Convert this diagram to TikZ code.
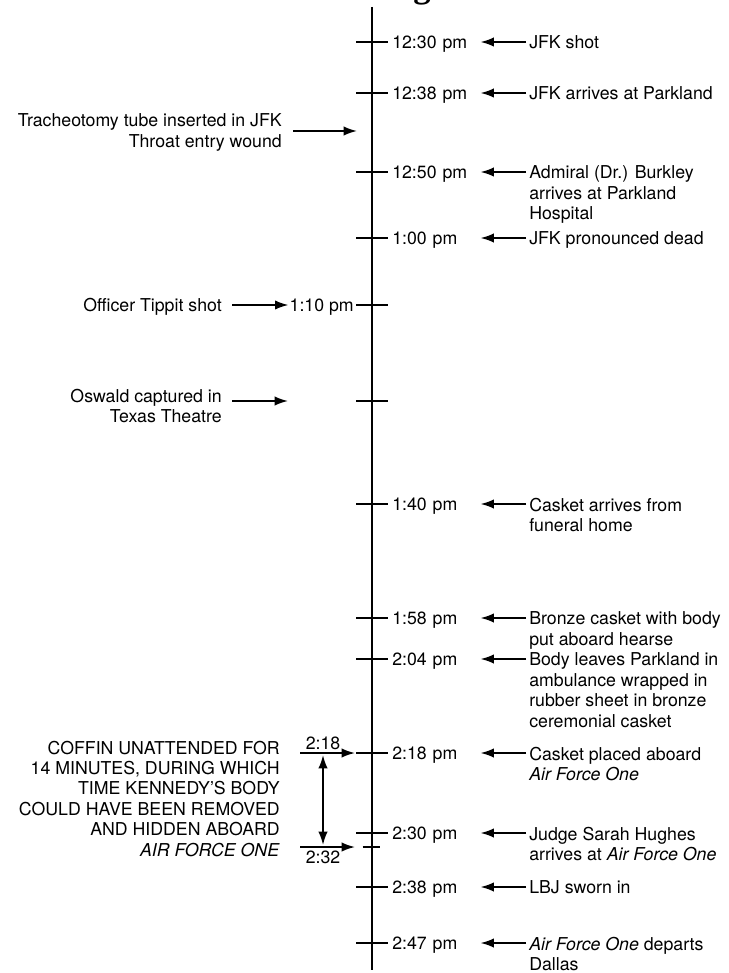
\documentclass[tikz,border=0pt]{standalone}
\usepackage{fontspec}
\setmainfont{TeX Gyre Heros}
\newfontfamily\headserif{Liberation Serif}
\usetikzlibrary{arrows.meta}
\newcommand\evsize{\fontsize{13.3}{15.3}\selectfont}

\begin{document}
\begin{tikzpicture}[x=0.75pt, y=-0.75pt, font=\evsize,
        axisline/.style={black, line width=1.6pt},
        tickmark/.style={black, line width=1.3pt},
        timelbl/.style={inner sep=0pt, anchor=base west, text width=62pt, align=left},
        evtext/.style={inner sep=0pt, anchor=north west, align=left},
        sidetext/.style={inner sep=0pt, anchor=north east, align=right},
        larr/.style={-{Latex[length=10pt,width=7pt]}, line width=1.3pt, shorten <=2.25pt, shorten >=4pt},
        rarr/.style={-{Latex[length=10pt,width=7pt]}, line width=1.3pt}]

        \useasboundingbox (0,0) rectangle (728,973);

        % heading, cut off at the top
        \begin{scope}
            \clip (0,0) rectangle (728,973);
            \node[inner sep=0pt, anchor=base, font=\headserif\bfseries\fontsize{26}{26}\selectfont] (heading) at (422,-2) {g};
        \end{scope}

        % time axis
        \coordinate (top) at (372,7);
        \coordinate (bottom) at (372,970);
        \draw[axisline] (top) -- (bottom);

        \coordinate (t1230) at (372,42);
        \coordinate (t1238) at (372,93);
        \coordinate (t1250) at (372,172);
        \coordinate (t100) at (372,238);
        \coordinate (t110) at (372,305);
        \coordinate (toswald) at (372,401);
        \coordinate (t140) at (372,504);
        \coordinate (t158) at (372,618);
        \coordinate (t204) at (372,659);
        \coordinate (t218) at (372,753);
        \coordinate (t230) at (372,833);
        \coordinate (t232) at (372,847);
        \coordinate (t238) at (372,887);
        \coordinate (t247) at (372,943);

        \draw[tickmark] ([xshift=-12pt]t1230) -- ([xshift=12pt]t1230);
        \draw[tickmark] ([xshift=-12pt]t1238) -- ([xshift=12pt]t1238);
        \draw[tickmark] ([xshift=-12pt]t1250) -- ([xshift=12pt]t1250);
        \draw[tickmark] ([xshift=-12pt]t100) -- ([xshift=12pt]t100);
        \draw[tickmark] ([xshift=-12pt]t110) -- ([xshift=12pt]t110);
        \draw[tickmark] ([xshift=-12pt]toswald) -- ([xshift=12pt]toswald);
        \draw[tickmark] ([xshift=-12pt]t140) -- ([xshift=12pt]t140);
        \draw[tickmark] ([xshift=-12pt]t158) -- ([xshift=12pt]t158);
        \draw[tickmark] ([xshift=-12pt]t204) -- ([xshift=12pt]t204);
        \draw[tickmark] ([xshift=-12pt]t218) -- ([xshift=12pt]t218);
        \draw[tickmark] ([xshift=-12pt]t230) -- ([xshift=12pt]t230);
        \draw[tickmark] ([xshift=-7pt]t232) -- ([xshift=6pt]t232);
        \draw[tickmark] ([xshift=-12pt]t238) -- ([xshift=12pt]t238);
        \draw[tickmark] ([xshift=-12pt]t247) -- ([xshift=12pt]t247);

        % right side: times and events
        \node[timelbl] (l1230) at (392,48.4) {12:30 pm};
        \node[timelbl] (l1238) at (392,99.4) {12:38 pm};
        \node[timelbl] (l1250) at (392,178.4) {12:50 pm};
        \node[timelbl] (l100) at (392,244.4) {1:00 pm};
        \node[timelbl] (l140) at (392,510.4) {1:40 pm};
        \node[timelbl] (l158) at (392,624.4) {1:58 pm};
        \node[timelbl] (l204) at (392,665.4) {2:04 pm};
        \node[timelbl] (l218) at (392,759.4) {2:18 pm};
        \node[timelbl] (l230) at (392,839.4) {2:30 pm};
        \node[timelbl] (l238) at (392,893.4) {2:38 pm};
        \node[timelbl] (l247) at (392,949.4) {2:47 pm};

        \node[evtext] (e1230) at (529,35.6) {JFK shot};
        \node[evtext] (e1238) at (529,86.6) {JFK arrives at Parkland};
        \node[evtext] (e1250) at (529,165.6) {Admiral (Dr.) Burkley\\arrives at Parkland\\Hospital};
        \node[evtext] (e100) at (529,231.6) {JFK pronounced dead};
        \node[evtext] (e140) at (529,497.6) {Casket arrives from\\funeral home};
        \node[evtext] (e158) at (529,611.6) {Bronze casket with body\\put aboard hearse};
        \node[evtext] (e204) at (529,652.6) {Body leaves Parkland in\\ambulance wrapped in\\rubber sheet in bronze\\ceremonial casket};
        \node[evtext] (e218) at (529,746.6) {Casket placed aboard\\\textit{Air Force One}};
        \node[evtext] (e230) at (529,826.6) {Judge Sarah Hughes\\arrives at \textit{Air Force One}};
        \node[evtext] (e238) at (529,880.6) {LBJ sworn in};
        \node[evtext] (e247) at (529,936.6) {\textit{Air Force One} departs\\Dallas};

        \draw[larr] (e1230.west |- t1230) -- (l1230.east |- t1230);
        \draw[larr] (e1238.west |- t1238) -- (l1238.east |- t1238);
        \draw[larr] (e1250.west |- t1250) -- (l1250.east |- t1250);
        \draw[larr] (e100.west |- t100) -- (l100.east |- t100);
        \draw[larr] (e140.west |- t140) -- (l140.east |- t140);
        \draw[larr] (e158.west |- t158) -- (l158.east |- t158);
        \draw[larr] (e204.west |- t204) -- (l204.east |- t204);
        \draw[larr] (e218.west |- t218) -- (l218.east |- t218);
        \draw[larr] (e230.west |- t230) -- (l230.east |- t230);
        \draw[larr] (e238.west |- t238) -- (l238.east |- t238);
        \draw[larr] (e247.west |- t247) -- (l247.east |- t247);

        % left side
        \node[sidetext] (trach) at (282,113.6) {Tracheotomy tube inserted in JFK\\Throat entry wound};
        \coordinate (trachtip) at (357,131);
        \draw[rarr, shorten <=8.25pt] (trach.east |- trachtip) -- (trachtip);

        \node[inner sep=0pt, anchor=base east] (tippit) at (222,311.4) {Officer Tippit shot};
        \node[inner sep=0pt, anchor=base east] (l110) at (354,311.4) {1:10 pm};
        \draw[rarr, shorten <=7.5pt, shorten >=0.75pt] (tippit.east |- t110) -- (l110.west |- t110);

        \node[sidetext] (oswald) at (222,388.6) {Oswald captured in\\Texas Theatre};
        \coordinate (oswaldtip) at (288,401);
        \draw[rarr, shorten <=7.5pt] (oswald.east |- oswaldtip) -- (oswaldtip);

        \node[sidetext] (coffin) at (280,740.6) {COFFIN UNATTENDED FOR\\14 MINUTES, DURING WHICH\\TIME KENNEDY'S BODY\\COULD HAVE BEEN REMOVED\\AND HIDDEN ABOARD\\\textit{AIR FORCE ONE}};
        \node[inner sep=0pt, anchor=base] (n218) at (323,749.4) {2:18};
        \node[inner sep=0pt, anchor=base] (n232) at (323,863.4) {2:32};
        \coordinate (c218) at (300,753);
        \coordinate (c232) at (300,847);
        \draw[rarr, shorten >=12.75pt] (c218) -- (t218);
        \draw[rarr, shorten >=12.75pt] (c232) -- (t232);
        \draw[{Latex[length=10pt,width=7pt]}-{Latex[length=10pt,width=7pt]}, line width=1.3pt, shorten <=1.5pt, shorten >=1.5pt] (n218.south |- c218) -- (n232.north |- c232);

\end{tikzpicture}
\end{document}
